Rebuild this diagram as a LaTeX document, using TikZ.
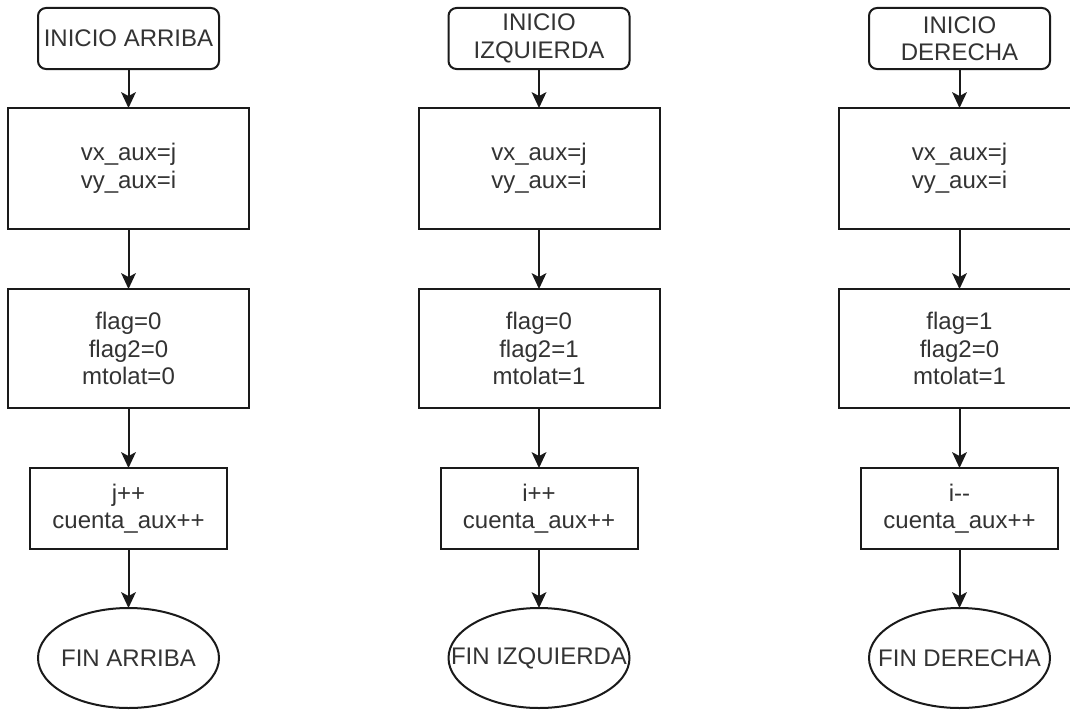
\documentclass[tikz,border=0pt]{standalone}
\usepackage{fontspec}
\setmainfont{Liberation Sans}
\usetikzlibrary{shapes.geometric,arrows.meta}
\definecolor{ink}{HTML}{1A1A1A}
\definecolor{txtgray}{HTML}{333333}
\tikzset{
  base/.style={draw=ink, line width=2pt, inner sep=0pt, outer sep=0pt,
    text=txtgray, align=center, font=\fontsize{24}{27.5}\selectfont},
  startbox/.style={base, rounded corners=8pt, minimum width=181pt, minimum height=61pt},
  bigbox/.style={base, minimum width=241pt},
  smallbox/.style={base, minimum width=197pt, minimum height=81pt},
  endnode/.style={base, ellipse, minimum width=181pt, minimum height=100pt},
  endtxt/.style={text=txtgray, font=\fontsize{24}{27.5}\selectfont, inner sep=0pt},
  flow/.style={draw=ink, line width=2pt,
    -{Stealth[length=16pt,width=15pt,inset=4pt,line width=0pt]}}
}
\begin{document}
\begin{tikzpicture}[x=1pt,y=-1pt]
\useasboundingbox (0,0) rectangle (1070,709);
\clip (0,0) rectangle (1070,709);
\fill[white] (0,0) rectangle (1070,709);

% column: ARRIBA
\node[startbox] (s1) at (128.5,38.5) {INICIO ARRIBA};
\node[bigbox, minimum height=121pt] (a1) at (128.5,168.5) {vx\_aux=j\\vy\_aux=i};
\node[bigbox, minimum height=119pt] (b1) at (128.5,348.5) {flag=0\\flag2=0\\mtolat=0};
\node[smallbox] (c1) at (128.5,508.5) {j++\\cuenta\_aux++};
\node[endnode, label={[endtxt]center:FIN ARRIBA}] (e1) at (128.5,658) {};

% column: IZQUIERDA
\node[startbox] (s2) at (539,38.5) {INICIO\\IZQUIERDA};
\node[bigbox, minimum height=121pt] (a2) at (539,168.5) {vx\_aux=j\\vy\_aux=i};
\node[bigbox, minimum height=119pt] (b2) at (539,348.5) {flag=0\\flag2=1\\mtolat=1};
\node[smallbox] (c2) at (539,508.5) {i++\\cuenta\_aux++};
\node[endnode, label={[endtxt]center:FIN IZQUIERDA}] (e2) at (539,658) {};

% column: DERECHA
\node[startbox] (s3) at (959.5,38.5) {INICIO\\DERECHA};
\node[bigbox, minimum height=121pt] (a3) at (959.5,168.5) {vx\_aux=j\\vy\_aux=i};
\node[bigbox, minimum height=119pt] (b3) at (959.5,348.5) {flag=1\\flag2=0\\mtolat=1};
\node[smallbox] (c3) at (959.5,508.5) {i-{}-\\cuenta\_aux++};
\node[endnode, label={[endtxt]center:FIN DERECHA}] (e3) at (959.5,658) {};

% connectors
\foreach \k in {1,2,3}{
  \draw[flow] (s\k) -- (a\k);
  \draw[flow] (a\k) -- (b\k);
  \draw[flow] (b\k) -- (c\k);
  \draw[flow] (c\k) -- (e\k);
}
\end{tikzpicture}
\end{document}
